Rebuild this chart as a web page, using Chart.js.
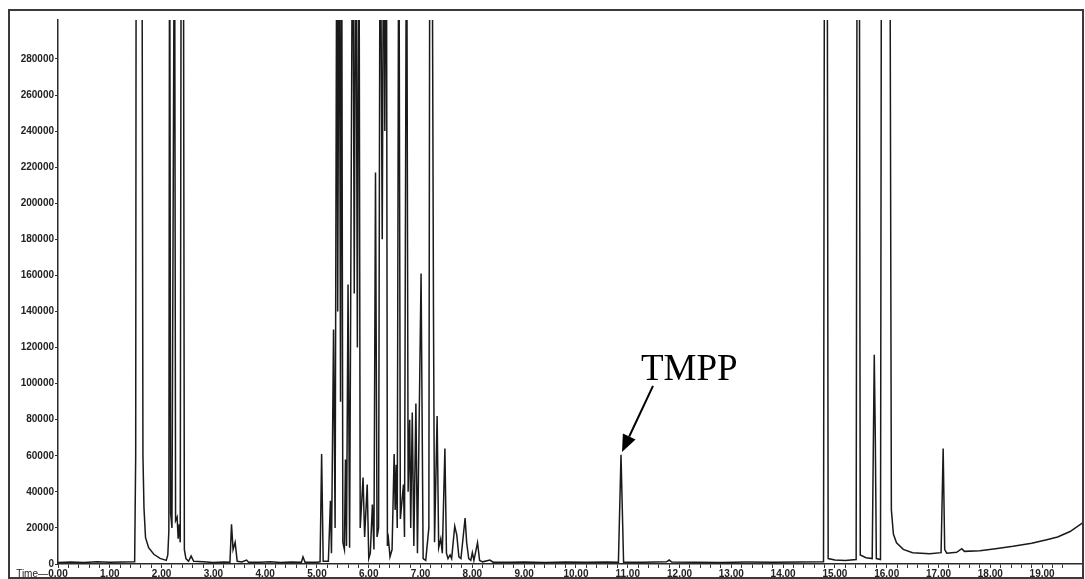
<!DOCTYPE html>
<html>
<head>
<meta charset="utf-8">
<script src="https://cdn.jsdelivr.net/npm/chart.js@4/dist/chart.umd.min.js"></script>
<style>
  html, body { margin: 0; padding: 0; background: #fff; }
  #wrap { width: 1085px; height: 579px; }
</style>
</head>
<body>
<div id="wrap"><canvas id="tic" width="1085" height="579"></canvas></div>
<script>
// retention time (min) and abundance; 400000 = off scale
const OFF = 400000;
const tmppTime = 10.87;
const tmppCount = 60500;

const solventTrace = [
  [0.00, 800], [0.25, 1100], [0.50, 900], [0.75, 1200], [1.00, 1000], [1.25, 1100], [1.48, 1200],
  [1.50, 60000], [1.51, OFF], [1.62, OFF], [1.64, 60000], [1.66, 31000], [1.69, 14600],
  [1.75, 9000], [1.85, 5400], [1.97, 3100], [2.09, 2000], [2.12, 5000],
  [2.14, 18000], [2.155, OFF], [2.175, 28000], [2.20, 20000], [2.25, OFF], [2.27, 24000],
  [2.30, 26000], [2.32, 14000], [2.34, 22000], [2.36, 12000], [2.38, OFF], [2.42, OFF],
  [2.44, 8000], [2.47, 3000], [2.52, 1500], [2.57, 4400], [2.62, 1500],
  [2.80, 1200], [3.00, 900], [3.20, 1100], [3.32, 1000], [3.35, 22000], [3.38, 8000],
  [3.42, 12000], [3.46, 1500], [3.55, 1100], [3.64, 2200], [3.68, 1000], [3.90, 1000],
  [4.10, 1300], [4.30, 900], [4.50, 1100], [4.70, 1000], [4.73, 4000], [4.77, 1000],
  [5.00, 1000], [5.06, 1200], [5.09, 61000], [5.12, 1500], [5.22, 1500]
];

const clusterTrace = [
  [5.26, 35000], [5.28, 6000], [5.32, 130000], [5.35, 20000],
  [5.385, OFF], [5.40, 140000], [5.43, OFF], [5.455, 90000], [5.475, OFF], [5.50, 12000],
  [5.53, 8000], [5.55, 58000], [5.57, 10000], [5.60, 155000], [5.63, 9000],
  [5.69, OFF], [5.72, 150000], [5.75, OFF], [5.78, 120000], [5.81, OFF], [5.835, 20000],
  [5.89, 48000], [5.92, 15000], [5.97, 44000], [6.00, 3000], [6.03, 6000], [6.07, 33000],
  [6.10, 8000], [6.13, 217000], [6.16, 15000], [6.19, 20000],
  [6.22, OFF], [6.26, 180000], [6.29, OFF], [6.31, 240000], [6.34, OFF], [6.36, 10000],
  [6.38, 14000], [6.41, 4000], [6.45, 8000], [6.49, 61000], [6.51, 30000], [6.53, 55000],
  [6.55, 20000], [6.58, OFF], [6.61, 25000], [6.67, 44000], [6.69, 15000],
  [6.73, OFF], [6.76, 40000], [6.79, 80000], [6.81, 20000], [6.84, 84000], [6.87, 10000],
  [6.91, 89000], [6.94, 6000], [7.01, 161000], [7.05, 3000], [7.10, 2000],
  [7.16, 20000], [7.18, OFF], [7.22, OFF], [7.25, 137000], [7.27, 12000],
  [7.32, 82000], [7.35, 9000], [7.39, 14000], [7.42, 6000], [7.47, 64000], [7.50, 6000],
  [7.53, 3000], [7.57, 5000], [7.60, 3000], [7.66, 21000], [7.70, 16000], [7.74, 4000],
  [7.78, 3000], [7.86, 25500], [7.89, 12000], [7.93, 3000], [7.97, 2000], [8.00, 6300],
  [8.03, 2000], [8.10, 11800], [8.14, 2000], [8.20, 1200], [8.34, 2200], [8.40, 1000]
];

const lateTrace = [
  [8.70, 1000], [9.00, 1100], [9.40, 900], [9.80, 1100], [10.20, 1000], [10.60, 1100],
  [10.82, 1000], [tmppTime, tmppCount], [10.92, 1000], [11.30, 1000], [11.75, 1200],
  [11.80, 2200], [11.85, 1100], [12.30, 1000], [12.80, 900], [13.30, 1100], [13.80, 1000],
  [14.30, 1100], [14.78, 1200], [14.80, OFF], [14.85, OFF], [14.87, 3000], [15.00, 2200],
  [15.20, 2000], [15.41, 2500], [15.43, OFF], [15.47, OFF], [15.49, 5000], [15.60, 3500],
  [15.72, 3000], [15.74, 60000], [15.76, 116000], [15.78, 70000], [15.80, 3000],
  [15.88, 2500], [15.90, OFF], [16.06, OFF], [16.09, 30000], [16.13, 16500],
  [16.19, 11800], [16.32, 8100], [16.50, 6300], [16.83, 5700], [17.05, 6300],
  [17.09, 64000], [17.12, 8000], [17.16, 6000], [17.35, 6500], [17.45, 8500], [17.50, 7000],
  [17.80, 7300], [18.10, 8500], [18.44, 9800], [18.80, 11500], [19.09, 13500],
  [19.30, 15000], [19.54, 18000], [19.79, 23000]
];

// abundance axis ticks
const yTicks = [0, 20000, 40000, 60000, 80000, 100000, 120000, 140000,
  160000, 180000, 200000, 220000, 240000, 260000, 280000];

const trace = solventTrace.concat(clusterTrace, lateTrace).map(p => ({ x: p[0], y: p[1] }));

const ink = '#1a1a1a';
const tickFont = { family: '"Liberation Sans", Arial, sans-serif', size: 10, weight: 'bold' };

// outer frame, "Time" caption and the TMPP call-out
const decorations = {
  id: 'decorations',
  afterDraw(chart) {
    const ctx = chart.ctx;
    const xs = chart.scales.x, ys = chart.scales.y;
    ctx.save();
    ctx.strokeStyle = '#3a3a3a';
    ctx.lineWidth = 2;
    ctx.strokeRect(9, 10, 1074, 568);

    ctx.fillStyle = '#222';
    ctx.font = '10px "Liberation Sans", Arial, sans-serif';
    ctx.textAlign = 'right';
    ctx.textBaseline = 'middle';
    ctx.fillText('Time\u2014', xs.getPixelForValue(0) - 10, 574);

    const tipX = xs.getPixelForValue(tmppTime) + 1;
    const tipY = ys.getPixelForValue(tmppCount) - 3;
    const tailX = tipX + 31, tailY = tipY - 66;
    const ang = Math.atan2(tipY - tailY, tipX - tailX);
    const headLen = 17, headW = 7;
    const baseX = tipX - headLen * Math.cos(ang), baseY = tipY - headLen * Math.sin(ang);
    ctx.strokeStyle = '#000';
    ctx.lineWidth = 2;
    ctx.beginPath();
    ctx.moveTo(tailX, tailY);
    ctx.lineTo(baseX, baseY);
    ctx.stroke();
    ctx.fillStyle = '#000';
    ctx.beginPath();
    ctx.moveTo(tipX, tipY);
    ctx.lineTo(baseX + headW * Math.sin(ang), baseY - headW * Math.cos(ang));
    ctx.lineTo(baseX - headW * Math.sin(ang), baseY + headW * Math.cos(ang));
    ctx.closePath();
    ctx.fill();

    ctx.font = '37px "Liberation Serif", "Times New Roman", serif';
    ctx.textAlign = 'left';
    ctx.textBaseline = 'alphabetic';
    ctx.fillText('TMPP', tipX + 19, tipY - 72);
    ctx.restore();
  }
};

new Chart(document.getElementById('tic'), {
  type: 'line',
  data: {
    datasets: [{
      data: trace,
      borderColor: ink,
      borderWidth: 1.5,
      pointRadius: 0,
      tension: 0,
      fill: false
    }]
  },
  options: {
    responsive: false,
    animation: false,
    events: [],
    layout: { padding: { top: 20, right: 2, left: 0, bottom: 0 } },
    plugins: { legend: { display: false }, tooltip: { enabled: false } },
    scales: {
      x: {
        type: 'linear',
        min: 0,
        max: 19.79,
        afterFit: s => { s.height = 15; },
        afterBuildTicks: s => { s.ticks = s.ticks.filter(t => t.value <= 19.6 + 1e-6); },
        border: { color: '#2a2a2a', width: 1.5 },
        grid: { drawOnChartArea: false, tickLength: 4, color: '#333' },
        ticks: {
          stepSize: 0.2,
          autoSkip: false,
          maxRotation: 0,
          padding: 0,
          color: '#222',
          font: tickFont,
          callback: v => Math.abs(v - Math.round(v)) < 1e-6 ? Math.round(v).toFixed(2) : ''
        }
      },
      y: {
        type: 'linear',
        min: 0,
        max: 301600,
        afterFit: s => { s.width = 58; },
        afterBuildTicks: s => { s.ticks = yTicks.map(v => ({ value: v })); },
        border: { color: '#2a2a2a', width: 1.5 },
        grid: { drawOnChartArea: false, tickLength: 3, color: '#333' },
        ticks: {
          autoSkip: false,
          padding: 1,
          color: '#222',
          font: tickFont,
          callback: v => String(v)
        }
      }
    }
  },
  plugins: [decorations]
});
</script>
</body>
</html>
